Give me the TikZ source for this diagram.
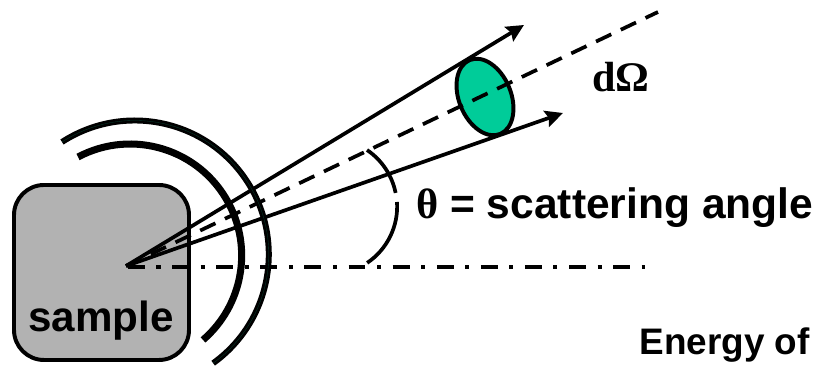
\documentclass[tikz,border=0pt]{standalone}
\usepackage{fontspec}
\setmainfont{Liberation Sans}
\newfontfamily\serifbold{Liberation Serif}
\usetikzlibrary{arrows.meta}
\definecolor{SampleGray}{HTML}{B2B2B2}
\definecolor{ConeGreen}{HTML}{00CC99}
\definecolor{ShieldGreen}{HTML}{06392B}

\begin{document}
\begin{tikzpicture}[
  x=1cm,y=1cm,
  >=Stealth,
  samplebox/.style={draw=black,fill=SampleGray,line width=2.25pt,rounded corners=0.6cm,
    minimum width=3.50cm,minimum height=3.50cm},
  ray/.style={draw=black,line width=2.1pt,-{Stealth[length=10pt,width=9.5pt,inset=1.5pt]}},
  beamaxis/.style={draw=black,line width=2.1pt,dash pattern=on 9.6pt off 6pt},
  incident/.style={draw=black,line width=2.1pt,dash pattern=on 9.6pt off 6.6pt on 2.3pt off 6.6pt},
  anglearc/.style={draw=black,line width=2.1pt},
  innerwall/.style={draw=black,line width=4pt},
  outerwall/.style={draw=black,line width=3.4pt},
  wallseam/.style={draw=ShieldGreen,line width=0.2pt},
  bigtext/.style={font=\fontsize{24}{28}\selectfont\bfseries,inner sep=0pt}
]
  \useasboundingbox (0,0) rectangle (16.3,7.4);

  % Sample block.
  \node[samplebox] (block) at (2.03,1.95) {};
  \node[bigtext,anchor=base] (sample) at (2.02,0.76) {sample};

  % Rays leave from one point inside the block.
  \coordinate (source) at (2.52,2.08);
  \coordinate (uppertip) at (10.48,6.90);
  \coordinate (lowertip) at (11.26,5.14);
  \coordinate (axisend) at (13.16,7.16);
  \coordinate (incidentend) at (12.90,2.06);

  % Solid angle disc sits under the rays.
  \draw[draw=black,fill=ConeGreen,line width=2.25pt,rotate around={-67.6:(9.70,5.46)}]
    (9.70,5.46) ellipse [x radius=0.80,y radius=0.52];
  \draw[ray] (source) -- (uppertip);
  \draw[ray] (source) -- (lowertip);
  \draw[beamaxis] (source) -- (axisend);
  \draw[incident] (2.56,2.06) -- (incidentend);

  % Two curved walls around the block.
  \draw[innerwall] (1.56,4.26) arc[start angle=117.9,end angle=-49.2,radius=2.23];
  \draw[outerwall] (1.24,4.56) arc[start angle=122.9,end angle=-54.2,radius=2.68];
  \draw[wallseam] (1.24,4.56) arc[start angle=122.9,end angle=-54.2,radius=2.68];

  % Angle mark, broken beside its label.
  \draw[anglearc] (7.34,4.40) arc[start angle=56,end angle=11.4,radius=1.36];
  \draw[anglearc] (7.94,3.36) arc[start angle=3.8,end angle=-56,radius=1.36];

  \node[bigtext,anchor=base west] (domega) at (11.84,5.56) {{\serifbold dΩ}};
  \node[bigtext,font=\fontsize{24.2}{28}\selectfont\bfseries,anchor=base west] (angle) at (8.32,3.02) {{\serifbold θ} = scattering angle};
  \node[font=\fontsize{21}{25}\selectfont\bfseries,inner sep=0pt,anchor=base east] (energy) at (16.20,0.30) {Energy of};
\end{tikzpicture}
\end{document}
